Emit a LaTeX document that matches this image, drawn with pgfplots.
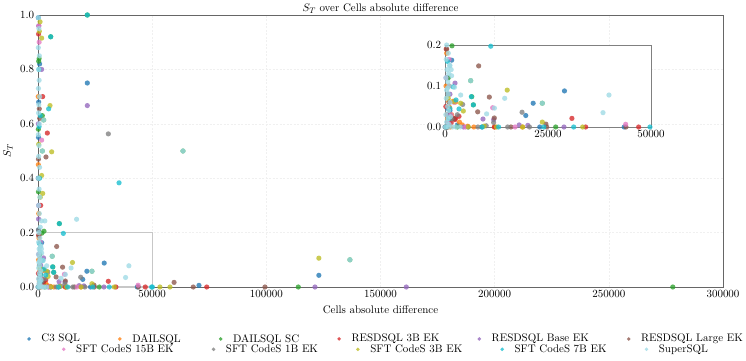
\documentclass[border=0pt,11pt]{standalone}
\usepackage{pgfplots}
\usepackage{pgfplotstable}
\pgfplotsset{compat=1.18}

\definecolor{cC3}{HTML}{1F77B4}
\definecolor{cDail}{HTML}{FF7F0E}
\definecolor{cDailSC}{HTML}{2CA02C}
\definecolor{cRes3B}{HTML}{D62728}
\definecolor{cResBase}{HTML}{9467BD}
\definecolor{cResLarge}{HTML}{8C564B}
\definecolor{cSft15}{HTML}{E377C2}
\definecolor{cSft1}{HTML}{7F7F7F}
\definecolor{cSft3}{HTML}{BCBD22}
\definecolor{cSft7}{HTML}{17BECF}
\definecolor{cSuper}{HTML}{9EDAE5}

\pgfplotsset{
  pt/.style={only marks, mark=*, mark size=2.6pt, color=#1,
    mark options={draw opacity=0, fill opacity=0.78}},
  rowlegend/.style={
    legend columns=-1,
    legend image code/.code={\draw[##1] plot coordinates {(0pt,0pt)};},
    legend image post style={mark size=1.9pt},
    legend style={at={(axis description cs:0.508,#1)}, anchor=center,
      draw=none, fill=none, inner sep=0pt, font=\normalsize,
      /tikz/every odd column/.append style={column sep=8.5pt},
      /tikz/every even column/.append style={column sep=36pt}},
  },
}

% Cells absolute difference (x) and S_T (y), one table per system
\pgfplotstableread{
x y
0 0.0
150 0.99
220 0.55
350 0.30
500 0.12
800 0.08
1200 0.04
1620 0.163
2300 0.02
3000 0.005
5600 0.0
21600 0.75
29000 0.088
21400 0.058
19600 0.028
123000 0.043
70500 0.006
43500 0.0
23000 0.0
9000 0.0
400 0.0
1000 0.012
600 0.045
250 0.21
100 0.40
700 0.82
300 0.68
}\tC
\pgfplotstableread{
x y
200 0.0
500 0.03
900 0.062
2000 0.063
2600 0.061
3500 0.012
4200 0.005
1300 0.0
7000 0.0
18800 0.0
250 0.10
400 0.18
150 0.45
300 0.27
600 0.02
1100 0.048
5500 0.002
12000 0.0
100 0.70
1600 0.03
800 0.0
}\tDail
\pgfplotstableread{
x y
300 0.83
500 0.84
1900 0.63
2630 0.205
1700 0.198
114000 0.0
278000 0.0
26860 0.0
5560 0.92
21600 1.0
9340 0.233
6500 0.074
6880 0.054
63500 0.50
136600 0.10
23620 0.058
2480 0.614
1900 0.50
6230 0.113
200 0.35
800 0.12
400 0.0
1200 0.03
3000 0.0
150 0.58
}\tDailSC
\pgfplotstableread{
x y
2040 0.70
4090 0.566
30800 0.021
47000 0.0
73900 0.0
34140 0.0
300 0.19
800 0.015
1500 0.01
2600 0.022
3400 0.026
2400 0.018
1180 0.30
12000 0.0
200 0.05
500 0.0
1000 0.10
250 0.93
}\tResThree
\pgfplotstableread{
x y
21600 0.667
1600 0.80
2430 0.107
9220 0.0195
11800 0.018
121300 0.0
161300 0.0
28880 0.0
18000 0.005
20100 0.004
300 0.96
1200 0.08
700 0.03
300 0.0
4500 0.0
150 0.60
250 0.25
}\tResBase
\pgfplotstableread{
x y
730 0.62
3500 0.478
8170 0.149
10760 0.073
7930 0.037
11970 0.022
24500 0.007
59600 0.017
68000 0.0
99400 0.0
43930 0.0
24670 0.0
400 0.19
1000 0.06
2000 0.02
300 0.0
16000 0.0
200 0.47
570 0.655
}\tResLarge
\pgfplotstableread{
x y
11570 0.047
43850 0.0066
1000 0.165
400 0.96
500 0.90
1600 0.54
300 0.30
17000 0.0
5000 0.0
1500 0.03
800 0.01
2200 0.06
250 0.12
}\tSftFifteen
\pgfplotstableread{
x y
30800 0.563
4290 0.055
18700 0.036
11800 0.011
15210 0.0
10000 0.003
600 0.08
1500 0.02
3000 0.03
500 0.0
8000 0.0
20500 0.0
300 0.40
200 0.21
}\tSftOne
\pgfplotstableread{
x y
5260 0.667
5990 0.497
1600 0.41
900 0.975
600 0.94
1600 0.915
300 0.525
15100 0.090
123000 0.106
23620 0.012
53400 0.0
57800 0.0
33410 0.0
5660 0.0
18850 0.0
4450 0.039
2200 0.062
2060 0.344
1000 0.33
800 0.07
3800 0.058
9500 0.002
12500 0.0
}\tSftThree
\pgfplotstableread{
x y
21600 1.0
5560 0.92
4670 0.655
35500 0.383
11100 0.197
9340 0.233
6390 0.074
6880 0.054
50100 0.0
31230 0.0
49750 0.0
400 0.80
2000 0.098
2670 0.066
600 0.16
1200 0.045
3400 0.044
900 0.02
300 0.0
13000 0.0
9000 0.0
24000 0.0
1000 0.63
700 0.40
500 0.59
}\tSftSeven
\pgfplotstableread{
x y
63500 0.50
136600 0.10
16900 0.249
39800 0.078
38350 0.035
14490 0.07
12000 0.046
10100 0.032
3800 0.078
2480 0.614
1900 0.50
6230 0.113
23620 0.058
3000 0.243
1500 0.243
1500 0.14
1200 0.15
600 0.095
2300 0.097
1600 0.125
200 0.99
400 0.95
150 0.88
600 0.85
300 0.80
500 0.76
200 0.73
700 0.70
350 0.67
250 0.64
600 0.60
150 0.56
450 0.52
300 0.48
700 0.44
200 0.40
500 0.36
800 0.33
300 0.30
600 0.27
1000 0.22
400 0.20
800 0.18
300 0.165
1100 0.15
500 0.14
900 0.13
200 0.12
700 0.11
1000 0.10
400 0.09
800 0.08
300 0.07
1200 0.06
600 0.05
900 0.04
200 0.03
1300 0.025
700 0.02
400 0.012
1000 0.006
150 0.0
800 0.0
1800 0.0
2600 0.0
3700 0.0
}\tSuper

\begin{document}
\begin{tikzpicture}
\useasboundingbox (0,0) rectangle (746pt,360pt);

% main scatter
\begin{axis}[
  at={(38pt,73pt)}, anchor=south west,
  scale only axis, width=685pt, height=272pt,
  xmin=0, xmax=300000, ymin=0, ymax=1,
  xtick={0,50000,100000,150000,200000,250000,300000},
  ytick={0,0.2,0.4,0.6,0.8,1.0},
  scaled x ticks=false,
  xticklabel style={/pgf/number format/.cd, fixed, set thousands separator={}},
  yticklabel style={/pgf/number format/.cd, fixed, fixed zerofill, precision=1},
  major tick length=0pt,
  axis line style={black!60, line width=0.8pt},
  grid=major,
  grid style={black!6, dash pattern=on 2pt off 1.5pt, line width=0.5pt},
  title={$S_T$ over Cells absolute difference},
  title style={yshift=-8pt},
  xlabel={Cells absolute difference},
  ylabel={$S_T$},
  rowlegend=-0.191,
]
\draw[black!22, line width=1.2pt] (axis cs:0,0) rectangle (axis cs:50000,0.2);
\addplot[pt=cC3] table {\tC};
\addlegendentry{C3 SQL}
\addplot[pt=cDail] table {\tDail};
\addlegendentry{DAILSQL}
\addplot[pt=cDailSC] table {\tDailSC};
\addlegendentry{DAILSQL SC}
\addplot[pt=cRes3B] table {\tResThree};
\addlegendentry{RESDSQL 3B EK}
\addplot[pt=cResBase] table {\tResBase};
\addlegendentry{RESDSQL Base EK}
\addplot[pt=cResLarge] table {\tResLarge};
\addlegendentry{RESDSQL Large EK}
\addplot[pt=cSft15, forget plot] table {\tSftFifteen};
\addplot[pt=cSft1, forget plot] table {\tSftOne};
\addplot[pt=cSft3, forget plot] table {\tSftThree};
\addplot[pt=cSft7, forget plot] table {\tSftSeven};
\addplot[pt=cSuper, forget plot] table {\tSuper};
\end{axis}

% second legend row
\begin{axis}[
  at={(38pt,73pt)}, anchor=south west,
  scale only axis, width=685pt, height=272pt,
  xmin=0, xmax=1, ymin=0, ymax=1, hide axis,
  rowlegend=-0.229,
]
\addlegendimage{pt=cSft15}
\addlegendentry{SFT CodeS 15B EK}
\addlegendimage{pt=cSft1}
\addlegendentry{SFT CodeS 1B EK}
\addlegendimage{pt=cSft3}
\addlegendentry{SFT CodeS 3B EK}
\addlegendimage{pt=cSft7}
\addlegendentry{SFT CodeS 7B EK}
\addlegendimage{pt=cSuper}
\addlegendentry{SuperSQL}
\end{axis}

% zoomed inset
\begin{axis}[
  at={(445pt,233pt)}, anchor=south west,
  scale only axis, width=206pt, height=82pt,
  xmin=0, xmax=50000, ymin=0, ymax=0.2,
  xtick={0,25000,50000}, ytick={0,0.1,0.2},
  scaled x ticks=false, scaled y ticks=false,
  xticklabel style={/pgf/number format/.cd, fixed, set thousands separator={}},
  yticklabel style={/pgf/number format/.cd, fixed, fixed zerofill, precision=1},
  major tick length=0pt,
  axis line style={black!50, line width=0.8pt},
  axis background/.style={fill=white},
]
\addplot[pt=cC3] table {\tC};
\addplot[pt=cDail] table {\tDail};
\addplot[pt=cDailSC] table {\tDailSC};
\addplot[pt=cRes3B] table {\tResThree};
\addplot[pt=cResBase] table {\tResBase};
\addplot[pt=cResLarge] table {\tResLarge};
\addplot[pt=cSft15] table {\tSftFifteen};
\addplot[pt=cSft1] table {\tSftOne};
\addplot[pt=cSft3] table {\tSftThree};
\addplot[pt=cSft7] table {\tSftSeven};
\addplot[pt=cSuper] table {\tSuper};
\end{axis}
\end{tikzpicture}
\end{document}
